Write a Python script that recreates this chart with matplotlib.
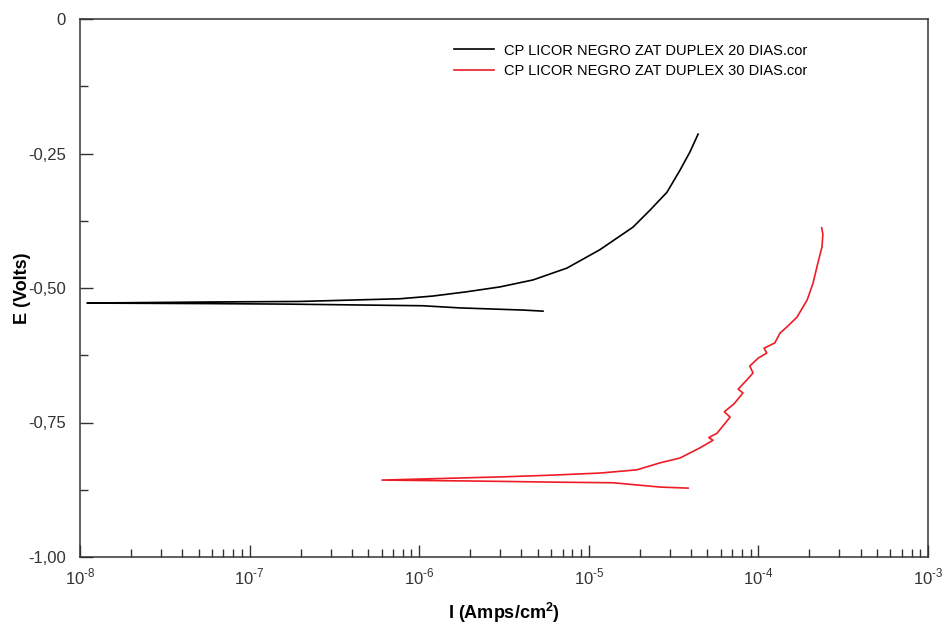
import math
import matplotlib
matplotlib.use("Agg")
from matplotlib import pyplot as plt
from matplotlib.ticker import FixedLocator, LogLocator, NullFormatter, FuncFormatter

plt.rcParams['font.family'] = ['Liberation Sans', 'DejaVu Sans']
plt.rcParams['mathtext.fontset'] = 'custom'
plt.rcParams['mathtext.rm'] = 'Liberation Sans'
plt.rcParams['mathtext.bf'] = 'Liberation Sans:bold'

# curve data (I in A/cm2, E in V)
# 20 dias: cathodic branch (right to left) then anodic branch (left to right)
i_20 = [5.37e-6, 4.09e-6, 1.74e-6, 1.05e-6, 1.73e-7, 5.85e-8, 1.10e-8,
        5.85e-8, 1.98e-7, 7.70e-7, 1.20e-6, 1.91e-6, 2.99e-6, 4.69e-6,
        7.43e-6, 1.16e-5, 1.82e-5, 2.30e-5, 2.89e-5, 3.45e-5, 3.95e-5, 4.41e-5]
e_20 = [-0.543, -0.541, -0.537, -0.533, -0.530, -0.529, -0.528,
        -0.526, -0.525, -0.520, -0.515, -0.507, -0.498, -0.485,
        -0.463, -0.429, -0.387, -0.355, -0.322, -0.281, -0.247, -0.214]

# 30 dias
i_30 = [3.85e-5, 2.63e-5, 1.39e-5, 6.76e-6, 2.38e-6, 6.04e-7,
        3.12e-6, 5.90e-6, 1.16e-5, 1.92e-5, 2.63e-5, 3.45e-5, 4.53e-5,
        5.40e-5, 5.10e-5, 5.70e-5, 6.81e-5, 6.30e-5, 7.20e-5, 8.11e-5,
        7.60e-5, 8.60e-5, 9.29e-5, 8.90e-5, 1.00e-4, 1.12e-4, 1.08e-4,
        1.25e-4, 1.34e-4, 1.50e-4, 1.69e-4, 1.94e-4, 2.10e-4, 2.24e-4,
        2.37e-4, 2.40e-4, 2.36e-4]
e_30 = [-0.872, -0.870, -0.862, -0.861, -0.859, -0.857,
        -0.851, -0.848, -0.844, -0.838, -0.825, -0.816, -0.797,
        -0.783, -0.778, -0.770, -0.740, -0.730, -0.715, -0.695,
        -0.688, -0.670, -0.658, -0.645, -0.630, -0.621, -0.612,
        -0.602, -0.584, -0.570, -0.554, -0.522, -0.491, -0.454,
        -0.424, -0.400, -0.388]

labels = ['CP LICOR NEGRO ZAT DUPLEX 20 DIAS.cor',
          'CP LICOR NEGRO ZAT DUPLEX 30 DIAS.cor']
y_ticks = [0, -0.25, -0.5, -0.75, -1.0]
y_ticklabels = ['0', '-0,25', '-0,50', '-0,75', '-1,00']

fig = plt.figure(figsize=(9.46, 6.28), dpi=100)
ax = fig.add_axes([80 / 946, 71 / 628, 848 / 946, 538 / 628])

ax.plot(i_20, e_20, color='black', linewidth=1.2, label=labels[0])
ax.plot(i_30, e_30, color='#ee1c25', linewidth=1.2, label=labels[1])

ax.set_xscale('log')
ax.set_xlim(1e-8, 1e-3)
ax.set_ylim(-1.0, 0)


def decade(v, pos):
    return r'10$^{\text{%d}}$' % round(math.log10(v))


ax.xaxis.set_major_locator(LogLocator(base=10, numticks=10))
ax.xaxis.set_minor_locator(LogLocator(base=10, subs=range(2, 10), numticks=20))
ax.xaxis.set_minor_formatter(NullFormatter())
ax.xaxis.set_major_formatter(FuncFormatter(decade))

ax.yaxis.set_major_locator(FixedLocator(y_ticks))
ax.set_yticklabels(y_ticklabels)
ax.yaxis.set_minor_locator(FixedLocator([-0.125, -0.375, -0.625, -0.875]))

ax.tick_params(which='both', direction='in', top=False, right=False,
               colors='#333333', labelcolor='#333333', labelsize=12)
ax.tick_params(which='major', length=9, width=1)
ax.tick_params(which='minor', length=6, width=1)
ax.tick_params(axis='x', pad=7)
ax.tick_params(axis='y', pad=10)

for s in ax.spines.values():
    s.set_color('#333333')
    s.set_linewidth(1.1)

ax.set_xlabel(r'I (Amps/cm$\mathbf{^2}$)', fontsize=13, fontweight='bold', labelpad=10)
ax.set_ylabel('E (Volts)', fontsize=13, fontweight='bold')
ax.yaxis.set_label_coords(-0.058, 0.5)

ax.legend(loc='upper left', bbox_to_anchor=(0.432, 0.968), frameon=False,
          fontsize=10.5, borderpad=0, handlelength=2.75, handletextpad=0.7,
          labelspacing=0.45)

fig.savefig('out.png', dpi=100)
